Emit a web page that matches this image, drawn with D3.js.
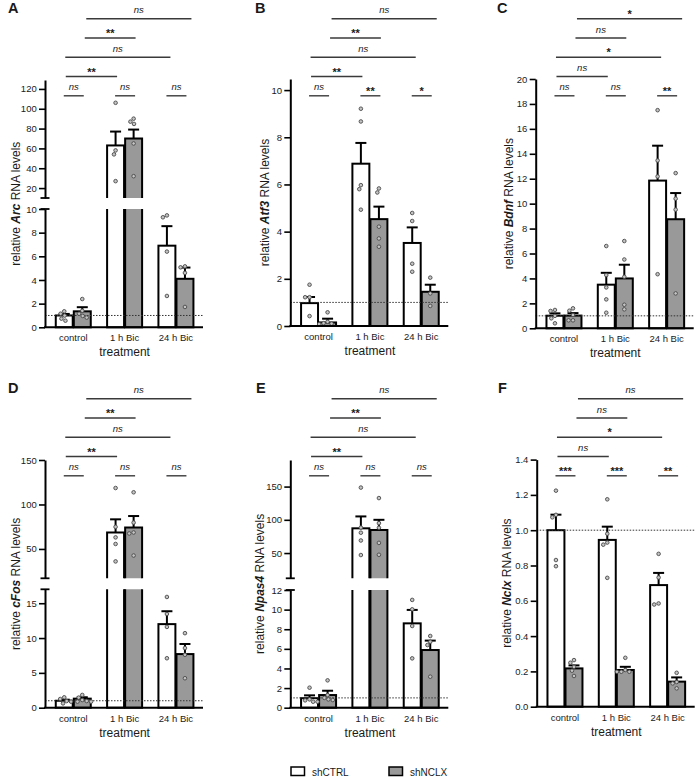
<!DOCTYPE html>
<html><head><meta charset="utf-8">
<script src="https://cdn.jsdelivr.net/npm/d3@7"></script>
<style>
body{margin:0;background:#fff}
svg{display:block}
text{font-family:"Liberation Sans",Arial,sans-serif;fill:#1a1a1a}
</style>
</head><body>
<svg id="c" width="697" height="778"></svg>
<script>
// ---------------- DATA ----------------
const categories = ["control", "1 h Bic", "24 h Bic"];
const seriesNames = ["shCTRL", "shNCLX"];
const panelLetters = ["A", "B", "C", "D", "E", "F"];
const genes = ["Arc", "Atf3", "Bdnf", "cFos", "Npas4", "Nclx"];

// Arc
const arcMeanCTRL = [1.0, 63, 6.9];
const arcSemCTRL = [0.13, 14, 1.65];
const arcMeanNCLX = [1.35, 70, 4.1];
const arcSemNCLX = [0.35, 9, 0.95];
const arcPtsCTRL = [[1.35, 0.56, 0.99, 1.15, 0.73], [106, 58, 54, 27], [9.3, 9.46, 6.4, 2.65]];
const arcPtsNCLX = [[0.82, 2.39, 1.15, 0.96, 1.4], [90, 87, 84.7, 65, 32], [5.07, 5.15, 4.6, 1.72]];
const arcPair = ["ns", "ns", "ns"];
const arcComp = ["**", "ns", "**", "ns"];
const arcTicksLower = [0, 2, 4, 6, 8, 10];
const arcTicksUpper = [20, 40, 60, 80, 100, 120];

// Atf3
const atf3MeanCTRL = [0.97, 6.88, 3.52];
const atf3SemCTRL = [0.26, 0.88, 0.66];
const atf3MeanNCLX = [0.15, 4.53, 1.45];
const atf3SemNCLX = [0.16, 0.53, 0.3];
const atf3PtsCTRL = [[1.75, 1.22, 1.22, 0.42], [9.21, 8.67, 5.97, 5.8, 4.93], [4.79, 4.45, 2.64, 2.3]];
const atf3PtsNCLX = [[0.58, 0.08, 0.1, 0.12, 0.18], [5.83, 5.66, 4.21, 3.71, 3.36], [2.05, 1.38, 0.85]];
const atf3Pair = ["ns", "**", "*"];
const atf3Comp = ["**", "ns", "**", "ns"];
const atf3Ticks = [0, 2, 4, 6, 8, 10];

// Bdnf
const bdnfMeanCTRL = [1.01, 3.5, 11.85];
const bdnfSemCTRL = [0.19, 0.95, 2.8];
const bdnfMeanNCLX = [1.02, 4.0, 8.75];
const bdnfSemNCLX = [0.2, 1.1, 2.1];
const bdnfPtsCTRL = [[1.47, 1.39, 1.0, 0.4, 0.8], [6.6, 4.27, 3.28, 2.32, 1.25], [17.5, 13.46, 12.18, 4.34]];
const bdnfPtsNCLX = [[1.6, 1.41, 1.07, 0.64, 0.64], [7.0, 5.52, 4.13, 1.89, 1.52], [12.45, 10.4, 9.52, 2.8]];
const bdnfPair = ["ns", "ns", "**"];
const bdnfComp = ["ns", "*", "ns", "*"];
const bdnfTicks = [0, 2, 4, 6, 8, 10, 12, 14, 16, 18, 20];

// cFos
const cfosMeanCTRL = [1.0, 68.5, 12.0];
const cfosSemCTRL = [0.15, 14.8, 1.85];
const cfosMeanNCLX = [1.3, 74.1, 7.7];
const cfosSemNCLX = [0.2, 12.9, 1.45];
const cfosPtsCTRL = [[1.25, 0.62, 0.96, 1.49, 0.87], [118.5, 74.8, 63, 55.6, 36], [15.9, 13.46, 11.6, 7.1]];
const cfosPtsNCLX = [[0.87, 1.83, 1.1, 0.96, 0.87, 1.45], [113.7, 79.6, 68.5, 67.4, 42.6], [10.7, 8.56, 7.6, 4.23]];
const cfosPair = ["ns", "ns", "ns"];
const cfosComp = ["**", "ns", "**", "ns"];
const cfosTicksLower = [0, 5, 10, 15];
const cfosTicksUpper = [50, 100, 150];

// Npas4
const npas4MeanCTRL = [0.97, 87.2, 8.6];
const npas4SemCTRL = [0.29, 17.9, 1.37];
const npas4MeanNCLX = [1.29, 84.7, 5.88];
const npas4SemNCLX = [0.44, 15.3, 0.96];
const npas4PtsCTRL = [[2.04, 0.61, 0.85, 0.61, 0.75], [148.5, 88.3, 80.6, 68.9, 47.0], [10.99, 10.03, 8.33, 5.03]];
const npas4PtsNCLX = [[2.79, 1.29, 0.78, 0.85, 1.0], [132.7, 95, 88, 65.3, 47.4], [7.31, 6.73, 6.39, 3.16]];
const npas4Pair = ["ns", "ns", "ns"];
const npas4Comp = ["**", "ns", "**", "ns"];
const npas4TicksLower = [0, 2, 4, 6, 8, 10, 12];
const npas4TicksUpper = [50, 100, 150];

// Nclx
const nclxMeanCTRL = [1.0, 0.945, 0.689];
const nclxSemCTRL = [0.088, 0.075, 0.069];
const nclxMeanNCLX = [0.217, 0.208, 0.142];
const nclxSemNCLX = [0.017, 0.018, 0.024];
const nclxPtsCTRL = [[1.224, 1.087, 1.073, 0.831, 0.796], [1.175, 0.98, 0.93, 0.918, 0.73], [0.866, 0.732, 0.585, 0.579]];
const nclxPtsNCLX = [[0.264, 0.249, 0.226, 0.204, 0.174], [0.277, 0.208, 0.198, 0.198, 0.198], [0.192, 0.14, 0.132, 0.104]];
const nclxPair = ["***", "***", "**"];
const nclxComp = ["ns", "*", "ns", "ns"];
const nclxTicks = [0, 0.2, 0.4, 0.6, 0.8, 1.0, 1.2, 1.4];

// ---------------- PANEL DEFINITIONS ----------------
const panels = [
  {mean: [arcMeanCTRL, arcMeanNCLX], sem: [arcSemCTRL, arcSemNCLX], pts: [arcPtsCTRL, arcPtsNCLX], pair: arcPair, comp: arcComp,
   broken: true, lowerMax: 10, upperDomain: [10, 129], lowerTicks: arcTicksLower, upperTicks: arcTicksUpper, fmt: d3.format("d")},
  {mean: [atf3MeanCTRL, atf3MeanNCLX], sem: [atf3SemCTRL, atf3SemNCLX], pts: [atf3PtsCTRL, atf3PtsNCLX], pair: atf3Pair, comp: atf3Comp,
   broken: false, domain: [0, 10.47], ticks: atf3Ticks, fmt: d3.format("d")},
  {mean: [bdnfMeanCTRL, bdnfMeanNCLX], sem: [bdnfSemCTRL, bdnfSemNCLX], pts: [bdnfPtsCTRL, bdnfPtsNCLX], pair: bdnfPair, comp: bdnfComp,
   broken: false, domain: [0, 20], ticks: bdnfTicks, fmt: d3.format("d")},
  {mean: [cfosMeanCTRL, cfosMeanNCLX], sem: [cfosSemCTRL, cfosSemNCLX], pts: [cfosPtsCTRL, cfosPtsNCLX], pair: cfosPair, comp: cfosComp,
   broken: true, lowerMax: 17, upperDomain: [17, 150], lowerTicks: cfosTicksLower, upperTicks: cfosTicksUpper, fmt: d3.format("d")},
  {mean: [npas4MeanCTRL, npas4MeanNCLX], sem: [npas4SemCTRL, npas4SemNCLX], pts: [npas4PtsCTRL, npas4PtsNCLX], pair: npas4Pair, comp: npas4Comp,
   broken: true, lowerMax: 12, upperDomain: [12, 190], lowerTicks: npas4TicksLower, upperTicks: npas4TicksUpper, fmt: d3.format("d")},
  {mean: [nclxMeanCTRL, nclxMeanNCLX], sem: [nclxSemCTRL, nclxSemNCLX], pts: [nclxPtsCTRL, nclxPtsNCLX], pair: nclxPair, comp: nclxComp,
   broken: false, domain: [0, 1.4], ticks: nclxTicks, fmt: d3.format(".1f")}
];

// layout (pixel geometry)
const layouts = [
  {ox: 0,   oy: 0,   axisX: 45,    top: 80,    bottom: 327.3, lowerTop: 209,   upperBottom: 198,   titleOff: 25.5, letterX: 8},
  {ox: 232, oy: 0,   axisX: 290.3, top: 79,    bottom: 326,   titleOff: 21.5, letterX: 255},
  {ox: 464, oy: 0,   axisX: 535.7, top: 79,    bottom: 328.3, titleOff: 22.5, letterX: 497},
  {ox: 0,   oy: 380, axisX: 45,    top: 460,   bottom: 707.7, lowerTop: 589.3, upperBottom: 578.3, titleOff: 25, letterX: 8},
  {ox: 232, oy: 380, axisX: 290.3, top: 460,   bottom: 707.7, lowerTop: 590,   upperBottom: 578.3, titleOff: 26, letterX: 256},
  {ox: 464, oy: 380, axisX: 536.7, top: 459.6, bottom: 706.7, titleOff: 26, letterX: 498}
];

const svg = d3.select("#c");
const defs = svg.append("defs");
const barFill = ["#ffffff", "#999999"];

function swarm(vals, yf, minDist) {
  const items = vals.map(v => ({v, y: yf(v), dx: 0})).sort((a, b) => a.y - b.y);
  const placed = [];
  const cands = [0];
  for (let k = 1; k <= 40; k++) { cands.push(-k * 0.4, k * 0.4); }
  items.forEach(it => {
    for (const c of cands) {
      const ok = placed.every(p => Math.hypot(p.dx - c, p.y - it.y) >= minDist);
      if (ok) { it.dx = c; break; }
    }
    placed.push(it);
  });
  return items;
}

panels.forEach((p, idx) => {
  const L = layouts[idx];
  const g = svg.append("g");
  const x = d3.scaleBand().domain(categories).range([L.axisX + 2.6, L.axisX + 156.6]);
  const xs = d3.scaleBand().domain(seriesNames).range([-17.5, 17.5]).paddingInner(0.06);
  const cx = c => x(c) + x.bandwidth() / 2;
  const barCx = (c, s) => cx(c) + xs(s) + xs.bandwidth() / 2;
  const xEnd = L.axisX + 158;

  const segs = [];
  if (p.broken) {
    segs.push({y: d3.scaleLinear().domain([0, p.lowerMax]).range([L.bottom, L.lowerTop]), lo: 0, hi: p.lowerMax, ticks: p.lowerTicks, top: L.lowerTop, bot: L.bottom});
    segs.push({y: d3.scaleLinear().domain(p.upperDomain).range([L.upperBottom, L.top]), lo: p.upperDomain[0], hi: p.upperDomain[1], ticks: p.upperTicks, top: L.top, bot: L.upperBottom});
  } else {
    segs.push({y: d3.scaleLinear().domain(p.domain).range([L.bottom, L.top]), lo: p.domain[0], hi: p.domain[1], ticks: p.ticks, top: L.top, bot: L.bottom});
  }
  const segFor = v => segs.find(s => v >= s.lo && v <= s.hi) || segs[segs.length - 1];

  // bars
  segs.forEach((s, si) => {
    const id = `clip${idx}_${si}`;
    const isLowest = s.lo === 0;
    defs.append("clipPath").attr("id", id).append("rect")
      .attr("x", L.axisX).attr("width", 165)
      .attr("y", s.top - (si === segs.length - 1 ? 20 : 0))
      .attr("height", (s.bot - s.top) + (si === segs.length - 1 ? 20 : 0) + (isLowest ? 3 : 0));
    const gb = g.append("g").attr("clip-path", `url(#${id})`);
    seriesNames.forEach((sn, j) => {
      categories.forEach((c, i) => {
        const v = p.mean[j][i];
        if (v < s.lo) return;
        const yTop = v > s.hi ? s.top - 6 : s.y(v);
        const yBot = isLowest ? s.y(0) : s.bot + 6;
        gb.append("rect")
          .attr("x", cx(c) + xs(sn)).attr("width", xs.bandwidth())
          .attr("y", yTop).attr("height", yBot - yTop)
          .attr("fill", barFill[j]).attr("stroke", "#000").attr("stroke-width", 2);
      });
    });
  });

  // dotted reference line at 1
  const s0 = segs[0];
  g.append("line").attr("x1", L.axisX).attr("x2", xEnd)
    .attr("y1", s0.y(1)).attr("y2", s0.y(1))
    .attr("stroke", "#333").attr("stroke-width", 1).attr("stroke-dasharray", "1.5,1.5");

  // error bars
  seriesNames.forEach((sn, j) => {
    categories.forEach((c, i) => {
      const m = p.mean[j][i], e = p.sem[j][i];
      const s = segFor(m + e);
      const bx = barCx(c, sn);
      g.append("line").attr("x1", bx).attr("x2", bx)
        .attr("y1", s.y(Math.max(m, s.lo))).attr("y2", s.y(m + e))
        .attr("stroke", "#000").attr("stroke-width", 2);
      g.append("line").attr("x1", bx - 5.5).attr("x2", bx + 5.5)
        .attr("y1", s.y(m + e)).attr("y2", s.y(m + e))
        .attr("stroke", "#000").attr("stroke-width", 2);
    });
  });

  // points
  seriesNames.forEach((sn, j) => {
    categories.forEach((c, i) => {
      const vals = p.pts[j][i];
      const items = swarm(vals, v => segFor(v).y(v), 4.2);
      const bx = barCx(c, sn);
      items.forEach(it => {
        g.append("circle").attr("cx", bx + it.dx).attr("cy", it.y).attr("r", 1.8)
          .attr("fill", "#c4c4c4").attr("stroke", "#4a4a4a").attr("stroke-width", 0.9);
      });
    });
  });

  // y axes
  segs.forEach(s => {
    const ax = g.append("g").attr("transform", `translate(${L.axisX},0)`)
      .call(d3.axisLeft(s.y).tickValues(s.ticks).tickSize(6).tickSizeOuter(0).tickPadding(2.3).tickFormat(p.fmt));
    ax.select(".domain").attr("stroke", "#000").attr("stroke-width", 2);
    ax.selectAll(".tick line").attr("stroke", "#000").attr("stroke-width", 1.6);
    ax.selectAll(".tick text").attr("font-size", 9.5).attr("font-family", "Liberation Sans, Arial, sans-serif").attr("fill", "#1a1a1a");
  });
  if (p.broken) {
    [L.upperBottom, L.lowerTop].forEach(yy => {
      g.append("line").attr("x1", L.axisX - 4.5).attr("x2", L.axisX + 4.5)
        .attr("y1", yy).attr("y2", yy).attr("stroke", "#000").attr("stroke-width", 1.8);
    });
  }

  // x axis
  g.append("line").attr("x1", L.axisX - 1).attr("x2", xEnd)
    .attr("y1", L.bottom).attr("y2", L.bottom).attr("stroke", "#000").attr("stroke-width", 2);
  const xa = g.append("g").attr("transform", `translate(0,${L.bottom})`)
    .call(d3.axisBottom(x).tickSize(0).tickPadding(7.3));
  xa.select(".domain").remove();
  xa.selectAll(".tick text").attr("font-size", 9.5).attr("font-family", "Liberation Sans, Arial, sans-serif").attr("fill", "#1a1a1a");

  g.append("text").attr("x", cx(categories[1])).attr("y", L.bottom + 29)
    .attr("text-anchor", "middle").attr("font-size", 12).text("treatment");

  // y title
  const yt = g.append("text")
    .attr("transform", `translate(${L.axisX - L.titleOff},${(L.top + L.bottom) / 2}) rotate(-90)`)
    .attr("text-anchor", "middle").attr("font-size", 12);
  yt.append("tspan").text("relative ");
  yt.append("tspan").attr("font-weight", "bold").attr("font-style", "italic").text(genes[idx]);
  yt.append("tspan").text(" RNA levels");

  // panel letter
  g.append("text").attr("x", L.letterX).attr("y", L.oy + 13.4)
    .attr("font-size", 14.5).attr("font-weight", "bold").attr("fill", "#000").text(panelLetters[idx]);

  // significance
  function sigText(xc, yLine, label) {
    const isNs = label === "ns";
    g.append("text").attr("x", xc).attr("y", isNs ? yLine - 5.5 : yLine - 0.8)
      .attr("text-anchor", "middle")
      .attr("font-size", isNs ? 9.5 : 11)
      .attr("font-style", isNs ? "italic" : "normal")
      .attr("font-weight", isNs ? "normal" : "bold")
      .attr("fill", "#222").text(label);
  }
  function sigLine(x1, x2, yy) {
    g.append("line").attr("x1", x1).attr("x2", x2).attr("y1", yy).attr("y2", yy)
      .attr("stroke", "#3a3a3a").attr("stroke-width", 1.4);
  }
  const rowY = L.oy + 95.8;
  categories.forEach((c, i) => {
    const cc = cx(c) + 0.5;
    sigLine(cc - 10, cc + 10, rowY);
    sigText(cc, rowY, p.pair[i]);
  });
  const compSpec = [
    {a: 0, b: 1, oa: -7.5, ob: -7.5, y: 76.5},
    {a: 0, b: 2, oa: -8, ob: -5.5, y: 57.2},
    {a: 0, b: 1, oa: 11.5, ob: 11, y: 38},
    {a: 0, b: 2, oa: 13, ob: 15.5, y: 18.8}
  ];
  compSpec.forEach((cs, k) => {
    const x1 = cx(categories[cs.a]) + cs.oa, x2 = cx(categories[cs.b]) + cs.ob;
    sigLine(x1, x2, L.oy + cs.y);
    sigText((x1 + x2) / 2, L.oy + cs.y, p.comp[k]);
  });
});

// legend
const lg = svg.append("g");
const legX = [291, 389];
seriesNames.forEach((sn, j) => {
  lg.append("rect").attr("x", legX[j]).attr("y", 767).attr("width", 13.5).attr("height", 8.5)
    .attr("fill", barFill[j]).attr("stroke", "#000").attr("stroke-width", 1.5);
  lg.append("text").attr("x", legX[j] + 21).attr("y", 775.5).attr("font-size", 10).text(sn);
});
</script>
</body></html>
